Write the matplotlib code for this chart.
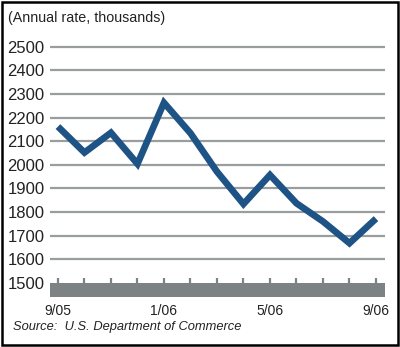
import matplotlib
matplotlib.use("Agg")
import matplotlib.pyplot as plt
from matplotlib.patches import Rectangle
from matplotlib import font_manager

months = ["9/05", "10/05", "11/05", "12/05", "1/06", "2/06", "3/06", "4/06",
          "5/06", "6/06", "7/06", "8/06", "9/06"]
values = [2162, 2052, 2136, 2004, 2263, 2134, 1971, 1834, 1957, 1837, 1760, 1668, 1772]
yticks = [1500, 1600, 1700, 1800, 1900, 2000, 2100, 2200, 2300, 2400, 2500]
xlabel_idx = [0, 4, 8, 12]
title = "(Annual rate, thousands)"
source = "Source:  U.S. Department of Commerce"

names = {f.name for f in font_manager.fontManager.ttflist}
cond = "Liberation Sans Narrow" if "Liberation Sans Narrow" in names else "Liberation Sans"
narrow = cond == "Liberation Sans Narrow"
plt.rcParams['font.family'] = [cond, 'DejaVu Sans']

W, H = 400, 347
fig = plt.figure(figsize=(W/100, H/100), dpi=100)

left_px, right_px = 50, 385
top_px, bot_px = 39, 297
ax = fig.add_axes([left_px/W, (H-bot_px)/H, (right_px-left_px)/W, (bot_px-top_px)/H])
x = list(range(len(months)))
ax.set_xlim(-0.30, 12.34)
ax.set_ylim(1440, 2533)

grid_c = "#9a9d9d"
band_c = "#7d8282"
ax.axhspan(1440, 1500, color=band_c, lw=0, zorder=1)
ax.hlines(yticks[1:], -0.30, 12.34, colors=grid_c, lw=1.6, zorder=1)
ax.vlines(x, 1500, 1521, colors=band_c, lw=1.6, zorder=1)

ax.plot(x, values, color="#1e5385", lw=4.8, solid_joinstyle="miter", solid_capstyle="butt", zorder=3)

for s in ax.spines.values():
    s.set_visible(False)
ax.set_yticks(yticks)
ax.set_yticklabels([str(v) for v in yticks], fontsize=(14 if narrow else 12), color="#222222")
ax.tick_params(axis='y', length=0, pad=4)
ax.set_xticks([x[i] for i in xlabel_idx])
ax.set_xticklabels([months[i] for i in xlabel_idx], fontsize=10, color="#222222")
ax.tick_params(axis='x', length=0, pad=5)

fig.text(8/W, 1 - 18/H, title, fontsize=(12 if narrow else 10.3), va='center', ha='left', color="#222222")
fig.text(13/W, 1 - 327/H, source, fontsize=(10.5 if narrow else 9.3), style='italic', va='center', ha='left', color="#222222")

fig.patches.append(Rectangle((1.5/W, 2/H), 396/W, 343/H, transform=fig.transFigure,
                             fill=False, edgecolor="black", lw=1.8))

fig.savefig("out.png", dpi=100)
